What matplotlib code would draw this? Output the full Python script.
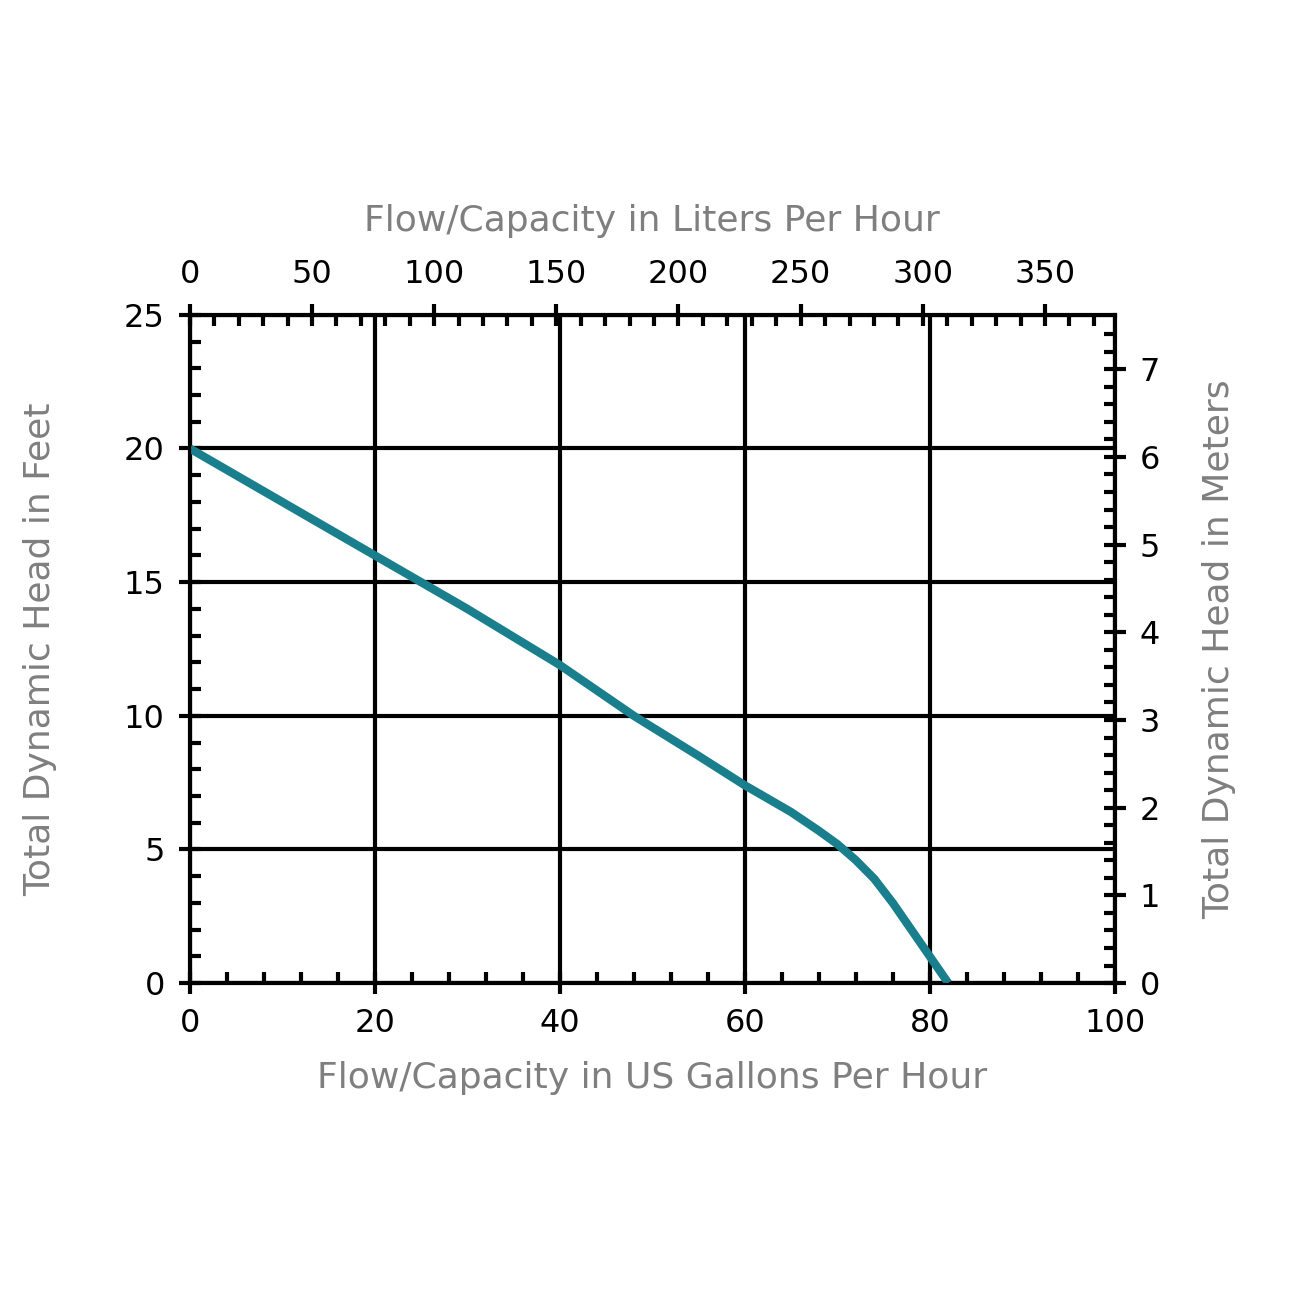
import matplotlib
matplotlib.use('Agg')
import matplotlib.pyplot as plt
import numpy as np

plt.rcParams['font.family'] = ['Liberation Sans Narrow', 'DejaVu Sans']

# pump curve, US gal/h vs feet
gph = [0, 10, 20, 25, 30, 40, 48, 55, 60, 65, 68, 70, 72, 74, 76, 78, 80, 82]
feet = [20, 18.0, 16.0, 15.0, 14.0, 11.9, 10.0, 8.5, 7.4, 6.4, 5.7, 5.2, 4.6, 3.9, 3.0, 2.0, 1.0, 0]

GAL_TO_L = 3.78541
FT_TO_M = 0.3048
grey = '#7f7f7f'

fig = plt.figure(figsize=(13, 13), dpi=100)
ax = fig.add_axes([0.146, 0.2438, 0.7115, 0.514])
ax.plot(gph, feet, color='#1a7f8c', lw=6, solid_capstyle='butt', zorder=3)
ax.set_xlim(0, 100)
ax.set_ylim(0, 25)
ax.set_xticks(np.arange(0, 101, 20))
ax.set_yticks(np.arange(0, 26, 5))
ax.set_xticks(np.arange(0, 101, 4), minor=True)
ax.set_yticks(np.arange(0, 26, 1), minor=True)
ax.grid(True, which='major', color='black', lw=3)
ax.tick_params(which='major', direction='inout', length=16, width=3, labelsize=23, pad=10)
ax.tick_params(which='minor', direction='in', length=8, width=3)
for s in ax.spines.values():
    s.set_linewidth(3)
ax.set_xlabel('Flow/Capacity in US Gallons Per Hour', fontsize=26, color=grey, labelpad=16)
ax.set_ylabel('Total Dynamic Head in Feet', fontsize=26, color=grey, labelpad=48)

top = ax.twiny()
top.set_xlim(0, 100 * GAL_TO_L)
top.set_xticks(np.arange(0, 351, 50))
top.set_xticks(np.arange(0, 371, 10), minor=True)
top.tick_params(which='major', direction='inout', length=16, width=3, labelsize=23, pad=10)
top.tick_params(which='minor', direction='in', length=8, width=3)
top.set_xlabel('Flow/Capacity in Liters Per Hour', fontsize=26, color=grey, labelpad=20)

right = ax.twinx()
right.set_ylim(0, 25 * FT_TO_M)
right.set_yticks(np.arange(0, 8, 1))
right.set_yticks(np.arange(0, 7.6, 0.2), minor=True)
right.tick_params(which='major', direction='inout', length=16, width=3, labelsize=23, pad=10)
right.tick_params(which='minor', direction='in', length=8, width=3)
right.set_ylabel('Total Dynamic Head in Meters', fontsize=26, color=grey, labelpad=30)

fig.savefig('out.png', dpi=100)
